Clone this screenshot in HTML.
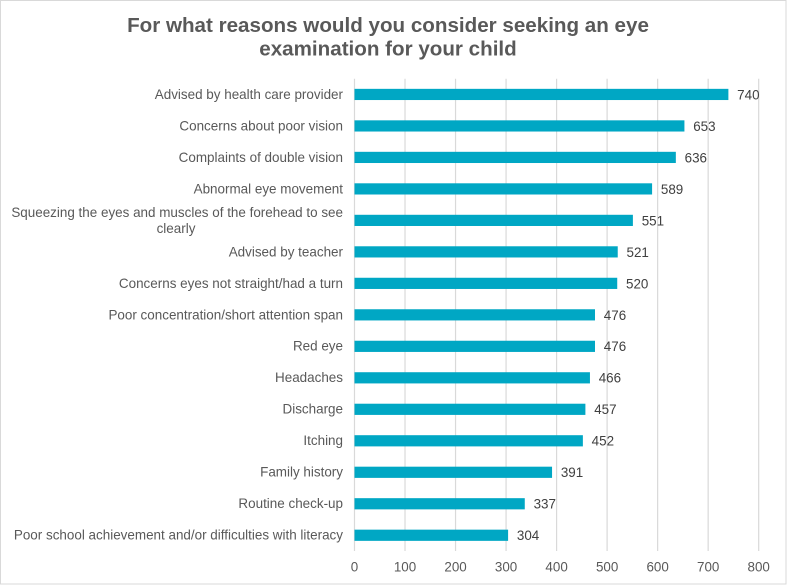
<!DOCTYPE html>
<html lang="en">
<head>
<meta charset="utf-8">
<title>Eye examination reasons chart</title>
<style>
html,body{margin:0;padding:0;background:#fff;}
body{width:787px;height:585px;overflow:hidden;}
svg{display:block;font-family:"Liberation Sans",Arial,sans-serif;}
</style>
</head>
<body>
<svg id="chart" width="787" height="585" viewBox="0 0 787 585" xmlns="http://www.w3.org/2000/svg">
<rect x="0.5" y="0.5" width="785.5" height="583.5" fill="#fff" stroke="#d9d9d9" stroke-width="1"/>
<text x="388" y="32" text-anchor="middle" font-size="20.6" font-weight="bold" fill="#595959">For what reasons would you consider seeking an eye</text>
<text x="388" y="55.5" text-anchor="middle" font-size="20.6" font-weight="bold" fill="#595959">examination for your child</text>
<g id="grid"></g>
<g id="bars"></g>
<g id="cats"></g>
<g id="vals"></g>
<g id="ticks"></g>
</svg>
<script>
const categories = [
  ["Advised by health care provider"],
  ["Concerns about poor vision"],
  ["Complaints of double vision"],
  ["Abnormal eye movement"],
  ["Squeezing the eyes and muscles of the forehead to see", "clearly"],
  ["Advised by teacher"],
  ["Concerns eyes not straight/had a turn"],
  ["Poor concentration/short attention span"],
  ["Red eye"],
  ["Headaches"],
  ["Discharge"],
  ["Itching"],
  ["Family history"],
  ["Routine check-up"],
  ["Poor school achievement and/or difficulties with literacy"]
];
const values = [740, 653, 636, 589, 551, 521, 520, 476, 476, 466, 457, 452, 391, 337, 304];
const tickValues = [0, 100, 200, 300, 400, 500, 600, 700, 800];

const NS = "http://www.w3.org/2000/svg";
const plotLeft = 354.5, plotRight = 758.7, plotTop = 78.7, plotBottom = 551;
const xMax = tickValues[tickValues.length - 1];
function xScale(v) { return plotLeft + (plotRight - plotLeft) * v / xMax; }
const band = (plotBottom - plotTop) / categories.length;
function yCenter(i) { return plotTop + band * (i + 0.5); }
function make(tag, attrs, parent, txt) {
  const el = document.createElementNS(NS, tag);
  for (const k in attrs) el.setAttribute(k, attrs[k]);
  if (txt !== undefined) el.textContent = txt;
  document.getElementById(parent).appendChild(el);
  return el;
}
tickValues.forEach(function (t) {
  const line = make("line", {x1: xScale(t), x2: xScale(t), y1: plotTop, y2: plotBottom, stroke: "#d9d9d9", "stroke-width": 1.2}, "grid");
  
  
  const label = make("text", {x: xScale(t), y: 571.5, "text-anchor": "middle", "font-size": 13.4, fill: "#595959"}, "ticks", String(t));
  
  
});
values.forEach(function (v, i) {
  const cy = yCenter(i);
  const bar = make("rect", {x: xScale(0), y: cy - 5.6, width: xScale(v) - xScale(0), height: 11.2, fill: "#00a7c4"}, "bars");
  
  
  const val = make("text", {x: xScale(v) + 8.8, y: cy + 4.9, "font-size": 13.4, fill: "#404040"}, "vals", String(v));
  
  
  const lines = categories[i];
  lines.forEach(function (s, j) {
    if (lines.length === 1) {
      const c = make("text", {x: 343, y: cy + 4.4, "text-anchor": "end", "font-size": 13.45, fill: "#595959"}, "cats", s);
      
      
    } else if (j === 0) {
      const c = make("text", {x: 343, y: cy - 3.6, "text-anchor": "end", "font-size": 13.45, fill: "#595959"}, "cats", s);
      
      
    } else {
      const c = make("text", {x: 176, y: cy + 12.4, "text-anchor": "middle", "font-size": 13.45, fill: "#595959"}, "cats", s);
      
      
    }
  });
});
</script>
</body>
</html>
